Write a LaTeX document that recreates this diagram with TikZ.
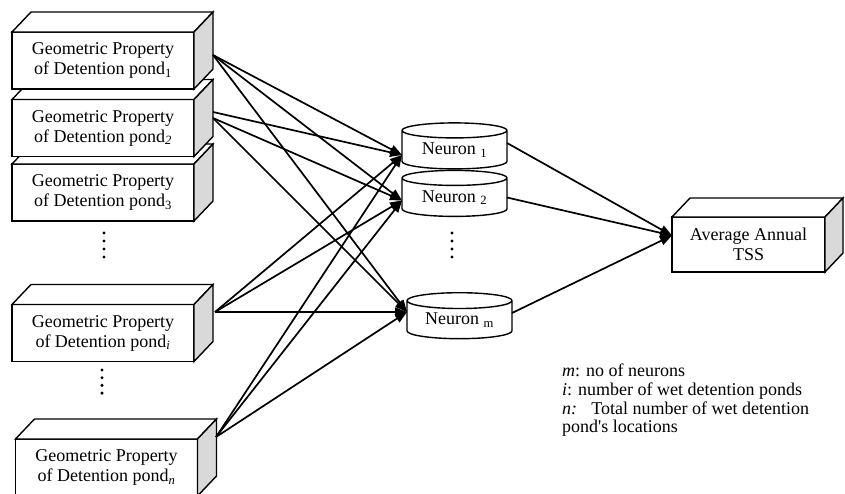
\documentclass[tikz,border=0pt]{standalone}
\usepackage{fontspec}
\setmainfont{Liberation Serif}
\usepackage{tikz}
\usetikzlibrary{arrows.meta,shapes.geometric}

\tikzset{
  pondbox/.style={draw, fill=white, line width=1.4pt, inner sep=0pt, outer sep=0pt,
    minimum width=182pt, minimum height=57pt, align=center,
    font=\fontsize{18}{20}\selectfont},
  topface/.style={draw, fill=white, line width=1.4pt},
  sideface/.style={draw, fill=black!15, line width=1.4pt},
  neuron/.style={cylinder, shape border rotate=90, draw, fill=white, line width=1.4pt,
    aspect=0.23, minimum width=105pt, minimum height=46pt, inner sep=0pt, outer sep=0pt,
    font=\fontsize{18}{20}\selectfont},
  link/.style={line width=1.7pt, -{Triangle[length=12pt,width=9pt]}},
  keytext/.style={align=left, inner sep=0pt, font=\fontsize{18}{18.6}\selectfont}
}

\begin{document}
\begin{tikzpicture}[x=1pt,y=-1pt]
    \useasboundingbox (0,0) rectangle (845,493);

    % Input boxes, lowest first so the upper ones lie on top
    \foreach \nm/\x/\y/\lab in {gn/106.5/467.5/{\textit{n}}, gi/103/333/{\textit{i}},
        g3/103/192.5/3, g2/103/128/{\textit{2}}, g1/103/60.5/1} {
        \node[pondbox] (\nm) at (\x,\y) {Geometric Property\\of Detention pond\textsubscript{\lab}};
        \draw[topface] (\nm.north west) -- ([shift={(19,-20)}]\nm.north west)
            -- ([shift={(19,-20)}]\nm.north east) -- (\nm.north east) -- cycle;
        \draw[sideface] (\nm.north east) -- ([shift={(19,-20)}]\nm.north east)
            -- ([shift={(19,-20)}]\nm.south east) -- (\nm.south east) -- cycle;
    }

    % Dots between the boxes
    \foreach \k in {0,...,3} {
        \fill (104,233+8*\k) circle (1.7);
        \fill (102,370+7.7*\k) circle (1.7);
        \fill (452,233+8*\k) circle (1.7);
    }

    % Output box
    \node[pondbox, minimum width=153pt, minimum height=55pt] (tss) at (748.5,244.5) {Average Annual\\TSS};
    \draw[topface] (tss.north west) -- ([shift={(18,-19)}]tss.north west)
        -- ([shift={(18,-19)}]tss.north east) -- (tss.north east) -- cycle;
    \draw[sideface] (tss.north east) -- ([shift={(18,-19)}]tss.north east)
        -- ([shift={(18,-19)}]tss.south east) -- (tss.south east) -- cycle;

    % Hidden layer
    \node[neuron] (n1) at (454.5,150) {Neuron \textsubscript{1}};
    \node[neuron] (n2) at (454.5,197.5) {Neuron \textsubscript{2}};
    \node[neuron] (nm) at (459.5,320) {Neuron \textsubscript{m}};

    % Where the links leave the boxes
    \coordinate (o1) at (213,55);
    \coordinate (o2a) at (213,112);
    \coordinate (o2b) at (213,118);
    \coordinate (oi) at (215,312);
    \coordinate (on) at (216,437);

    % Input links
    \foreach \src in {o1,o2a,oi,on}
        \draw[link] (\src) -- ([yshift=-5pt]n1.west);
    \foreach \src in {o1,o2b,oi,on}
        \draw[link] (\src) -- ([yshift=-3pt]n2.west);
    \foreach \src in {o1,o2b,oi,on}
        \draw[link] (\src) -- ([yshift=8pt]nm.west);

    % Output links
    \draw[link] ([yshift=7pt]n1.east) -- ([yshift=9pt]tss.west);
    \draw[link] (n2.east) -- ([yshift=9pt]tss.west);
    \draw[link] ([yshift=7pt]nm.east) -- ([yshift=9pt]tss.west);

    % Legend
    \node[keytext, anchor=north west] (key) at (562,364) {\textit{m}: no of neurons\\
        \textit{i}: number of wet detention ponds\\
        \textit{n:}\hspace{0.45em} Total number of wet detention\\
        pond\textquotesingle s locations};
\end{tikzpicture}
\end{document}
